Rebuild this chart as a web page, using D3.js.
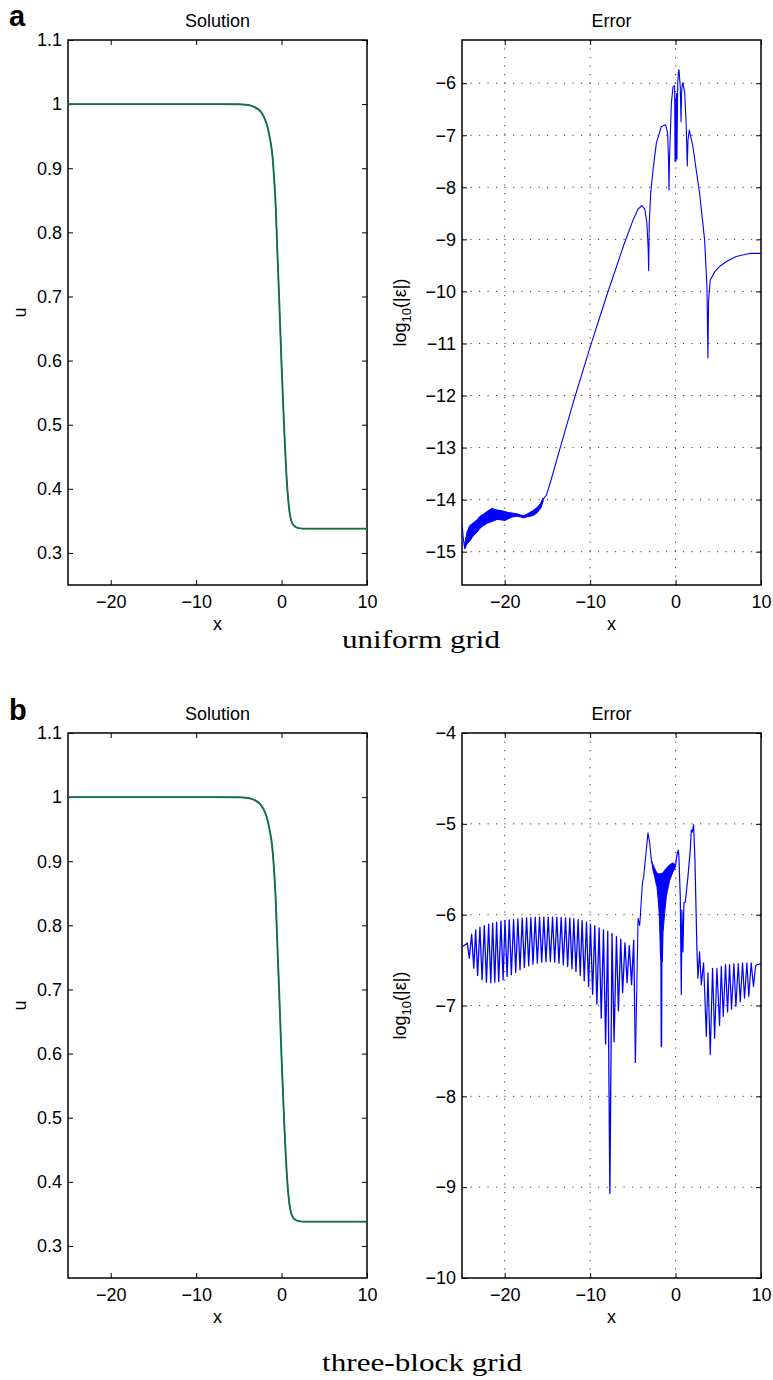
<!DOCTYPE html>
<html>
<head>
<meta charset="utf-8">
<script src="https://cdn.jsdelivr.net/npm/d3@7"></script>
<style>
  body { margin: 0; background: #fff; }
  text { font-family: "Liberation Sans", Arial, Helvetica, sans-serif; }
  .cap { font-family: "Liberation Serif", "DejaVu Serif", serif; }
</style>
</head>
<body>
<svg id="fig" width="773" height="1380"></svg>
<script>
// ---- data ----
var xDomain = [-25, 10];
var xTicks = [-20, -10, 0, 10];
var uTicks = [0.3, 0.4, 0.5, 0.6, 0.7, 0.8, 0.9, 1, 1.1];
var errTicksA = [-15, -14, -13, -12, -11, -10, -9, -8, -7, -6];
var errTicksB = [-10, -9, -8, -7, -6, -5, -4];

// solution profile u(x), same in both rows
var solution = [[-25, 1.0], [-8, 1.0], [-5, 0.9997], [-4.3, 0.9992], [-3.7, 0.998], [-3.1, 0.995],
  [-2.5, 0.989], [-2.1, 0.981], [-1.7, 0.967], [-1.4, 0.949], [-1.09, 0.922], [-0.9, 0.89],
  [-0.69, 0.842], [-0.5, 0.772], [-0.29, 0.7], [-0.01, 0.596], [0.32, 0.489], [0.63, 0.409],
  [0.91, 0.366], [1.1, 0.352], [1.31, 0.345], [1.6, 0.341], [1.92, 0.339], [2.5, 0.338], [10, 0.338]];

// uniform grid error: start, noisy band [x, hi, lo], then smooth part
var errA_start = [[-25, -14.45], [-24.85, -14.75], [-24.7, -14.93]];
var errA_band = [[-24.7, -14.85, -14.95], [-24.4, -14.62, -14.85], [-24.1, -14.5, -14.8],
  [-23.7, -14.45, -14.7], [-23.2, -14.38, -14.62], [-22.9, -14.32, -14.55], [-22.5, -14.28, -14.5],
  [-22.0, -14.22, -14.45], [-21.5, -14.17, -14.42], [-20.9, -14.2, -14.38], [-20.4, -14.21, -14.39],
  [-19.97, -14.23, -14.4], [-19.5, -14.25, -14.36], [-19.0, -14.26, -14.33], [-18.6, -14.27, -14.32],
  [-18.2, -14.29, -14.33], [-17.8, -14.31, -14.35], [-17.4, -14.28, -14.33], [-17.0, -14.24, -14.32],
  [-16.6, -14.2, -14.3], [-16.2, -14.15, -14.25], [-15.8, -14.07, -14.17], [-15.5, -13.97, -14.03]];
var errA_line = [[-15.5, -13.99], [-15.1, -13.91], [-14.5, -13.58], [-13.5, -13.0], [-11.9, -12.09],
  [-10.04, -11.09], [-8, -10.05], [-6, -9.08], [-4.98, -8.63], [-4.4, -8.42], [-3.93, -8.35],
  [-3.6, -8.42], [-3.35, -8.7], [-3.2, -9.2], [-3.15, -9.6], [-3.08, -8.7], [-2.91, -8.11],
  [-2.64, -7.67], [-2.25, -7.15], [-1.66, -6.83], [-1.16, -6.8], [-0.93, -6.96], [-0.82, -7.5],
  [-0.77, -8.05], [-0.70, -7.4], [-0.65, -7.15], [-0.49, -6.38], [-0.30, -6.07], [-0.11, -6.05],
  [-0.06, -7.5], [0.0, -6.3], [0.05, -7.5], [0.1, -6.2], [0.16, -7.45], [0.25, -6.0], [0.33, -5.80],
  [0.40, -5.74], [0.55, -6.07], [0.64, -6.74], [0.70, -6.2], [0.78, -6.03], [0.86, -5.99],
  [1.07, -6.19], [1.25, -6.83], [1.37, -7.59], [1.45, -7.1], [1.61, -6.9], [2.03, -7.22],
  [2.42, -7.67], [2.81, -8.11], [3.4, -9.01], [3.67, -9.91], [3.79, -11.28], [3.86, -10.2],
  [4.06, -9.78], [4.6, -9.62], [5.15, -9.52], [6.0, -9.42], [7.1, -9.33], [8.66, -9.27], [10, -9.27]];

// three-block grid error
var errB_start = [[-24.92, -6.35], [-24.53, -6.325], [-24.38, -6.31], [-24.15, -6.48]];
var teethPeaks = [[-23.87, -6.215], [-23.40, -6.167], [-22.90, -6.138], [-22.39, -6.12], [-21.88, -6.105],
  [-21.41, -6.094], [-20.95, -6.083], [-20.44, -6.072], [-19.97, -6.065], [-19.47, -6.057],
  [-18.96, -6.054], [-18.46, -6.046], [-17.95, -6.039], [-17.44, -6.035], [-16.94, -6.032],
  [-16.43, -6.028], [-15.92, -6.028], [-15.42, -6.028], [-14.91, -6.028], [-14.40, -6.028],
  [-13.90, -6.028], [-13.39, -6.032], [-12.88, -6.035], [-12.38, -6.039], [-11.91, -6.046],
  [-11.41, -6.054], [-10.94, -6.065], [-10.43, -6.083], [-9.96, -6.105], [-9.46, -6.12],
  [-8.95, -6.145], [-8.44, -6.167], [-7.94, -6.185], [-7.44, -6.207], [-6.92, -6.24],
  [-6.42, -6.27], [-5.92, -6.31], [-5.42, -6.34], [-4.90, -6.28]];
var teethTroughs = [[-23.62, -6.589], [-23.17, -6.670], [-22.65, -6.717], [-22.14, -6.743], [-21.63, -6.750],
  [-21.16, -6.743], [-20.70, -6.736], [-20.19, -6.717], [-19.72, -6.680], [-19.22, -6.662],
  [-18.71, -6.637], [-18.21, -6.607], [-17.70, -6.582], [-17.19, -6.563], [-16.69, -6.545],
  [-16.18, -6.534], [-15.67, -6.523], [-15.17, -6.519], [-14.66, -6.516], [-14.15, -6.523],
  [-13.65, -6.534], [-13.14, -6.552], [-12.63, -6.571], [-12.13, -6.596], [-11.66, -6.626],
  [-11.16, -6.670], [-10.69, -6.728], [-10.18, -6.791], [-9.71, -6.875], [-9.21, -6.985],
  [-8.70, -7.139], [-8.19, -7.425], [-7.69, -9.07], [-7.20, -7.40], [-6.69, -7.06],
  [-6.20, -6.86], [-5.68, -6.75], [-5.15, -6.77], [-4.70, -7.63]];
var errB_mid = [[-4.70, -7.63], [-4.39, -6.04], [-4.2, -6.12], [-3.88, -5.65], [-3.73, -5.58],
  [-3.23, -5.10], [-3.03, -5.21], [-2.83, -5.40]];
var errB_band = [[-2.83, -5.40, -5.40], [-2.64, -5.45, -5.51], [-2.45, -5.49, -5.58], [-2.25, -5.53, -5.67],
  [-2.18, -5.54, -5.69], [-2.05, -5.55, -5.82], [-1.94, -5.55, -5.95], [-1.86, -5.55, -6.13],
  [-1.78, -5.55, -6.42], [-1.70, -5.55, -6.5], [-1.54, -5.54, -6.52], [-1.47, -5.54, -6.2],
  [-1.28, -5.51, -5.98], [-1.08, -5.49, -5.8], [-1.0, -5.48, -5.76], [-0.69, -5.45, -5.62],
  [-0.31, -5.43, -5.53], [0.01, -5.45, -5.47]];
var errB_spike = [[-1.70, -6.3], [-1.66, -7.45], [-1.62, -6.3]];
var errB_end = [[0.01, -5.45], [0.16, -5.34], [0.32, -5.29], [0.39, -5.36], [0.55, -5.80], [0.67, -6.88],
  [0.74, -5.95], [0.86, -6.41], [0.98, -5.87], [1.14, -5.86], [1.45, -5.58], [1.72, -5.29],
  [1.84, -5.07], [1.96, -5.09], [2.11, -5.01], [2.27, -5.40], [2.5, -6.39], [2.62, -6.70],
  [2.81, -6.41], [3.01, -6.77], [3.28, -6.53], [3.6, -7.34], [3.79, -6.64], [4.06, -7.54],
  [4.33, -6.59], [4.57, -7.36], [4.84, -6.59], [5.15, -7.22], [5.35, -6.57], [5.58, -7.12],
  [5.85, -6.55], [6.09, -7.07], [6.32, -6.55], [6.55, -7.04], [6.83, -6.54], [7.06, -7.01],
  [7.34, -6.54], [7.57, -6.96], [7.84, -6.53], [8.07, -6.92], [8.35, -6.53], [8.57, -6.90],
  [8.85, -6.53], [9.12, -6.79], [9.36, -6.57], [9.51, -6.55], [9.75, -6.55], [10, -6.53]];

// ---- layout ----
var svg = d3.select("#fig");
var W = 299, H = 545;
var fs = "18px";
var fmt = function(d){ return String(d).replace("-", "\u2212"); };
var clipId = 0;

function panel(left, top, yDomain, yTicks, grid) {
  var g = svg.append("g").attr("transform", "translate(" + left + "," + top + ")");
  var x = d3.scaleLinear().domain(xDomain).range([0, W]);
  var y = d3.scaleLinear().domain(yDomain).range([H, 0]);

  // dotted grid
  if (grid) {
    g.selectAll(".gx").data(xTicks.filter(function(d){ return x(d) > 1 && x(d) < W - 1; }))
      .enter().append("line")
      .attr("x1", function(d){ return x(d); }).attr("x2", function(d){ return x(d); })
      .attr("y1", 0).attr("y2", H)
      .style("stroke", "#222").style("stroke-width", 0.9).style("stroke-dasharray", "1.2,7.3");
    g.selectAll(".gy").data(yTicks.filter(function(d){ return y(d) > 1 && y(d) < H - 1; }))
      .enter().append("line")
      .attr("x1", 0).attr("x2", W)
      .attr("y1", function(d){ return y(d); }).attr("y2", function(d){ return y(d); })
      .style("stroke", "#222").style("stroke-width", 0.9).style("stroke-dasharray", "1.2,7.3");
  }

  clipId++;
  svg.append("clipPath").attr("id", "clip" + clipId)
    .append("rect").attr("x", left).attr("y", top).attr("width", W).attr("height", H);
  var plot = svg.append("g").attr("clip-path", "url(#clip" + clipId + ")")
    .append("g").attr("transform", "translate(" + left + "," + top + ")");

  // axes, ticks pointing inward on all four sides
  var yl = g.append("g").call(d3.axisLeft(y).tickValues(yTicks).tickSizeInner(-5).tickSizeOuter(0).tickPadding(6).tickFormat(fmt));
  var yr = g.append("g").attr("transform", "translate(" + W + ",0)")
    .call(d3.axisRight(y).tickValues(yTicks).tickSizeInner(-5).tickSizeOuter(0).tickFormat(""));
  var xb = g.append("g").attr("transform", "translate(0," + H + ")")
    .call(d3.axisBottom(x).tickValues(xTicks).tickSizeInner(-5).tickSizeOuter(0).tickPadding(10).tickFormat(fmt));
  var xt = g.append("g").call(d3.axisTop(x).tickValues(xTicks).tickSizeInner(-5).tickSizeOuter(0).tickFormat(""));
  [yl, yr, xb, xt].forEach(function(a){
    a.select(".domain").remove();
    a.selectAll("line").style("stroke", "#000").style("stroke-width", 1);
    a.selectAll("text").style("font-size", fs).style("font-family", "Liberation Sans, Arial, sans-serif").attr("fill", "#000");
  });
  g.append("rect").attr("width", W).attr("height", H)
    .style("fill", "none").style("stroke", "#000").style("stroke-width", 1.5);

  return { g: g, plot: plot, x: x, y: y };
}

function xyLine(p, curve) {
  return d3.line().curve(curve || d3.curveLinear)
    .x(function(d){ return p.x(d[0]); }).y(function(d){ return p.y(d[1]); });
}

function drawSolution(p) {
  p.plot.append("path").datum(solution).attr("d", xyLine(p, d3.curveMonotoneX))
    .style("fill", "none").style("stroke", "#2a5fa8").style("stroke-width", 1.9);
  p.plot.append("path").datum(solution).attr("d", xyLine(p, d3.curveMonotoneX))
    .style("fill", "none").style("stroke", "#0a7a1a").style("stroke-width", 1.1);
}

function drawBand(p, band) {
  var area = d3.area().x(function(d){ return p.x(d[0]); })
    .y0(function(d){ return p.y(d[2]); }).y1(function(d){ return p.y(d[1]); });
  p.plot.append("path").datum(band).attr("d", area)
    .style("fill", "#0000ff").style("stroke", "#0000ff").style("stroke-width", 1);
}

function drawErr(p, pts, w) {
  p.plot.append("path").datum(pts).attr("d", xyLine(p))
    .style("fill", "none").style("stroke", "#0000ff").style("stroke-width", w || 1.1)
    .style("stroke-linejoin", "round");
}

function labels(p, title, ylab, yOffset) {
  p.g.append("text").text(title).attr("x", W / 2).attr("y", -13.5)
    .attr("text-anchor", "middle").style("font-size", fs);
  p.g.append("text").text("x").attr("x", W / 2).attr("y", H + 45)
    .attr("text-anchor", "middle").style("font-size", fs);
  var t = p.g.append("text")
    .attr("transform", "translate(" + yOffset + "," + (H / 2) + ") rotate(-90)")
    .attr("text-anchor", "middle").style("font-size", fs);
  if (ylab === "u") {
    t.text("u");
  } else {
    t.append("tspan").text("log");
    t.append("tspan").text("10").attr("dy", 5).style("font-size", "13px");
    t.append("tspan").text("(|\u03b5|)").attr("dy", -5);
  }
}

// row a
var a1 = panel(68, 40, [0.25, 1.1], uTicks, false);
drawSolution(a1);
labels(a1, "Solution", "u", -42);

var a2 = panel(462, 40, [-15.64, -5.17], errTicksA, true);
drawErr(a2, errA_start);
drawBand(a2, errA_band);
drawErr(a2, errA_line);
labels(a2, "Error", "log", -56);

// row b
var b1 = panel(68, 733, [0.25, 1.1], uTicks, false);
drawSolution(b1);
labels(b1, "Solution", "u", -42);

var b2 = panel(462, 733, [-10, -4], errTicksB, true);
var teeth = errB_start.slice();
teethPeaks.forEach(function(pk, i){ teeth.push(pk); teeth.push(teethTroughs[i]); });
drawErr(b2, teeth, 1.3);
drawErr(b2, errB_mid, 1.1);
drawBand(b2, errB_band);
drawErr(b2, errB_spike, 1.6);
drawErr(b2, errB_end, 1.2);
labels(b2, "Error", "log", -56);

// panel letters and captions
svg.append("text").text("a").attr("x", 9).attr("y", 26)
  .style("font-size", "29px").style("font-weight", "bold");
svg.append("text").text("b").attr("x", 9).attr("y", 720)
  .style("font-size", "29px").style("font-weight", "bold");
svg.append("text").attr("class", "cap").text("uniform grid")
  .attr("x", 342).attr("y", 648).attr("textLength", 158).attr("lengthAdjust", "spacingAndGlyphs")
  .style("font-size", "26px");
svg.append("text").attr("class", "cap").text("three-block grid")
  .attr("x", 322).attr("y", 1371).attr("textLength", 200).attr("lengthAdjust", "spacingAndGlyphs")
  .style("font-size", "26px");
</script>
</body>
</html>
